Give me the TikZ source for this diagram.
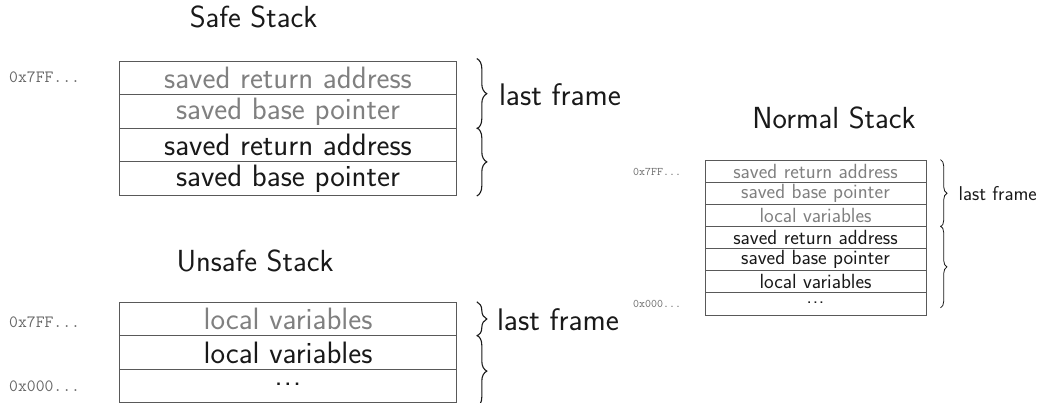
\documentclass[tikz,border=0pt]{standalone}
\usepackage{fontspec}
\usetikzlibrary{decorations.pathreplacing,calc}
\definecolor{boxline}{gray}{0.35}
\definecolor{graytext}{gray}{0.50}
\definecolor{darktext}{gray}{0.10}
\definecolor{addrtext}{gray}{0.40}
\newcommand{\rowdots}{\smash{.\kern0.04em.\kern0.04em.}}
\begin{document}
\begin{tikzpicture}[x=1pt,y=-1pt,
  bigrow/.style={draw=boxline, line width=1.1pt, minimum width=336.5pt, minimum height=33.6pt, inner sep=0pt,
     font=\sffamily\fontsize{30.9}{36}\selectfont},
  unrow/.style={bigrow, minimum height=33.4pt},
  smallrow/.style={draw=boxline, line width=0.9pt, minimum width=221pt, minimum height=22.15pt, inner sep=0pt,
     font=\sffamily\fontsize{20.5}{24}\selectfont},
  old/.style={text=graytext},
  cur/.style={text=darktext},
  dotsrow/.style={text height=0pt, text depth=0pt},
  title/.style={anchor=base, text=darktext, font=\sffamily\fontsize{30.5}{36}\selectfont},
  bigaddr/.style={anchor=base west, text=addrtext, inner sep=0pt, font=\ttfamily\fontsize{17.2}{20}\selectfont},
  smalladdr/.style={anchor=base west, text=addrtext, inner sep=0pt, font=\ttfamily\fontsize{11.6}{13}\selectfont},
  bigbrace/.style={draw=darktext, line width=1.1pt, decorate, decoration={brace, amplitude=10pt}},
  smallbrace/.style={draw=darktext, line width=0.8pt, decorate, decoration={brace, amplitude=6.5pt}},
  biglabel/.style={anchor=west, inner sep=0pt, text=darktext, font=\sffamily\fontsize{31.2}{36}\selectfont},
  smalllabel/.style={anchor=west, inner sep=0pt, text=darktext, font=\sffamily\fontsize{20}{24}\selectfont}
]
\useasboundingbox (0,0) rectangle (1040,403);

% Safe Stack
\node[title] (safeT) at (253.5,28) {Safe Stack};
\node[bigrow, old] (s1) at (288,77.9) {saved return address};
\node[bigrow, old] (s2) at (288,111.5) {saved base pointer};
\node[bigrow, cur] (s3) at (288,145.1) {saved return address};
\node[bigrow, cur] (s4) at (288,178.7) {saved base pointer};
\node[bigaddr] (sa) at (9,83) {0x7FF...};
\draw[bigbrace] ([xshift=20pt,yshift=2pt]s1.north east) -- ([xshift=20pt]s2.south east);
\draw[bigbrace] ([xshift=20pt]s3.north east) -- ([xshift=20pt]s4.south east);
\node[biglabel] (sl) at ($(s1.north east)!0.5!(s2.south east)+(42,0)$) {last frame};

% Unsafe Stack
\node[title] (unsT) at (255,271) {Unsafe Stack};
\node[unrow, old] (u1) at (288,319.0) {local variables};
\node[unrow, cur] (u2) at (288,352.4) {local variables};
\node[unrow, cur, dotsrow] (u3) at (288,385.8) {\rowdots};
\node[bigaddr] (ua1) at (9,327) {0x7FF...};
\node[bigaddr] (ua2) at (9,391) {0x000...};
\draw[bigbrace] ([xshift=20pt]u1.north east) -- ([xshift=20pt]u1.south east);
\draw[bigbrace] ([xshift=20pt]u2.north east) -- ([xshift=20pt,yshift=-4pt]u3.south east);
\node[biglabel] (ul) at ($(u1.east)+(40,1)$) {last frame};

% Normal Stack
\node[title] (norT) at (834,129) {Normal Stack};
\node[smallrow, old] (n1) at (815.5,171.1) {saved return address};
\node[smallrow, old] (n2) at (815.5,193.2) {saved base pointer};
\node[smallrow, old] (n3) at (815.5,215.4) {local variables};
\node[smallrow, cur] (n4) at (815.5,237.5) {saved return address};
\node[smallrow, cur] (n5) at (815.5,259.7) {saved base pointer};
\node[smallrow, cur] (n6) at (815.5,281.8) {local variables};
\node[smallrow, cur, dotsrow] (n7) at (815.5,303.9) {\rowdots};
\node[smalladdr] (na1) at (633,176) {0x7FF...};
\node[smalladdr] (na2) at (633,307) {0x000...};
\draw[smallbrace] ([xshift=14pt]n1.north east) -- ([xshift=14pt]n3.south east);
\draw[smallbrace] ([xshift=14pt]n4.north east) -- ([xshift=14pt,yshift=-4pt]n7.east);
\node[smalllabel] (nl) at ($(n1.north east)!0.5!(n3.south east)+(32,0)$) {last frame};
\end{tikzpicture}
\end{document}
